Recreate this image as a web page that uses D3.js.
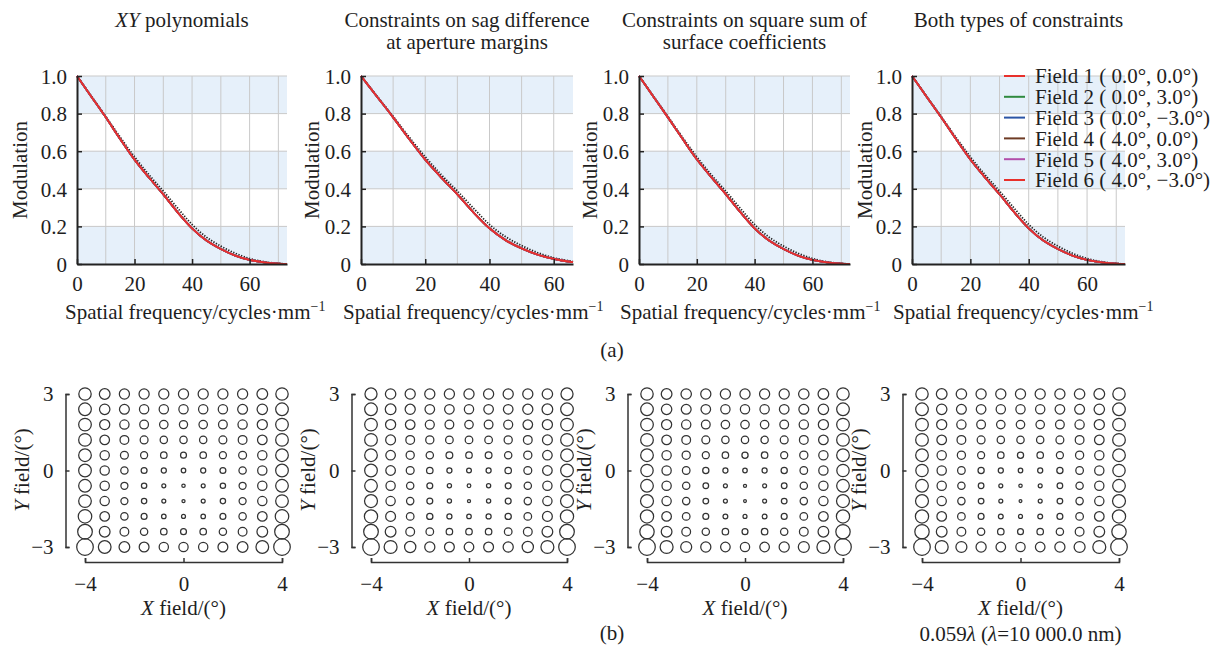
<!DOCTYPE html>
<html>
<head>
<meta charset="utf-8">
<script src="https://cdn.jsdelivr.net/npm/d3@7"></script>
<style>
  body { margin: 0; background: #fff; }
  svg { font-family: "Liberation Serif", "Times New Roman", serif; }
</style>
</head>
<body>
<div id="chart"></div>
<script>
// ---- MTF data ----
const freqLong = [0, 5, 10, 15, 20, 25, 30, 35, 40, 45, 50, 55, 60, 65, 70, 73];
const freqShort = [0, 5, 10, 15, 20, 25, 30, 35, 40, 45, 50, 55, 60, 65, 66];

const diffPoly = [1.0, 0.893, 0.785, 0.675, 0.57, 0.475, 0.388, 0.297, 0.21, 0.143, 0.095, 0.057, 0.029, 0.012, 0.003, 0];
const fieldPoly = [1.0, 0.89, 0.78, 0.665, 0.555, 0.46, 0.37, 0.275, 0.19, 0.125, 0.08, 0.045, 0.022, 0.009, 0.002, 0];

const diffSag = [1.0, 0.893, 0.785, 0.675, 0.57, 0.475, 0.388, 0.297, 0.21, 0.145, 0.098, 0.06, 0.033, 0.016, 0.013];
const fieldSag = [1.0, 0.89, 0.78, 0.665, 0.555, 0.46, 0.37, 0.275, 0.19, 0.127, 0.083, 0.05, 0.027, 0.012, 0.01];

const diffSquare = [1.0, 0.893, 0.785, 0.675, 0.57, 0.475, 0.388, 0.297, 0.21, 0.143, 0.095, 0.057, 0.029, 0.012, 0.003, 0];
const fieldSquare = [1.0, 0.89, 0.78, 0.667, 0.557, 0.462, 0.372, 0.277, 0.19, 0.125, 0.08, 0.045, 0.022, 0.009, 0.002, 0];

const diffBoth = [1.0, 0.893, 0.785, 0.675, 0.57, 0.475, 0.388, 0.297, 0.21, 0.143, 0.095, 0.057, 0.029, 0.012, 0.003, 0];
const fieldBoth = [1.0, 0.89, 0.78, 0.666, 0.556, 0.461, 0.371, 0.276, 0.19, 0.125, 0.08, 0.045, 0.022, 0.009, 0.002, 0];

const fieldNames = ["Field 1 ( 0.0°, 0.0°)", "Field 2 ( 0.0°, 3.0°)", "Field 3 ( 0.0°, \u22123.0°)",
                    "Field 4 ( 4.0°, 0.0°)", "Field 5 ( 4.0°, 3.0°)", "Field 6 ( 4.0°, \u22123.0°)"];
const fieldColors = ["#e8302b", "#2f8a3f", "#2b55a6", "#6e3b24", "#b24fab", "#e8302b"];

const yTicks = [0, 0.2, 0.4, 0.6, 0.8, 1.0];
const xTicks = [0, 20, 40, 60];

// ---- Full-field display data (RMS size in waves, rows y=3..-3, cols x=-4..4) ----
const xFields = [-4, -3.2, -2.4, -1.6, -0.8, 0, 0.8, 1.6, 2.4, 3.2, 4];
const yFields = [3, 2.4, 1.8, 1.2, 0.6, 0, -0.6, -1.2, -1.8, -2.4, -3];

const spotPoly = [
  [.044, .038, .036, .036, .036, .036, .036, .036, .036, .038, .044],
  [.045, .037, .035, .033, .033, .033, .033, .033, .035, .037, .045],
  [.045, .036, .033, .031, .030, .029, .030, .031, .033, .036, .045],
  [.045, .034, .031, .028, .026, .026, .026, .028, .031, .034, .045],
  [.045, .033, .028, .025, .023, .021, .023, .025, .028, .033, .045],
  [.045, .033, .026, .021, .018, .016, .018, .021, .026, .033, .045],
  [.045, .033, .025, .019, .014, .012, .014, .019, .025, .033, .045],
  [.045, .033, .025, .019, .014, .011, .014, .019, .025, .033, .045],
  [.048, .034, .026, .021, .016, .014, .016, .021, .026, .034, .048],
  [.052, .038, .031, .026, .023, .021, .023, .026, .031, .038, .052],
  [.059, .045, .038, .035, .033, .033, .033, .035, .038, .045, .059]
];
const spotSag = [
  [.043, .037, .036, .036, .036, .036, .036, .036, .036, .037, .043],
  [.045, .038, .036, .034, .034, .033, .034, .034, .036, .038, .045],
  [.045, .036, .034, .032, .031, .030, .031, .032, .034, .036, .045],
  [.045, .035, .031, .029, .027, .027, .027, .029, .031, .035, .045],
  [.045, .034, .029, .026, .024, .023, .024, .026, .029, .034, .045],
  [.045, .034, .028, .023, .018, .017, .018, .023, .028, .034, .045],
  [.045, .033, .026, .021, .015, .013, .015, .021, .026, .033, .045],
  [.046, .033, .026, .021, .015, .011, .015, .021, .026, .033, .046],
  [.047, .035, .027, .022, .018, .016, .018, .022, .027, .035, .047],
  [.052, .038, .031, .027, .023, .023, .023, .027, .031, .038, .052],
  [.059, .046, .040, .036, .035, .034, .035, .036, .040, .046, .059]
];
const spotSquare = [
  [.044, .038, .037, .036, .036, .036, .036, .036, .037, .038, .044],
  [.045, .037, .035, .034, .033, .033, .033, .034, .035, .037, .045],
  [.045, .036, .033, .031, .030, .030, .030, .031, .033, .036, .045],
  [.045, .034, .031, .028, .026, .026, .026, .028, .031, .034, .045],
  [.045, .033, .029, .025, .023, .022, .023, .025, .029, .033, .045],
  [.044, .033, .027, .022, .018, .016, .018, .022, .027, .033, .044],
  [.045, .033, .026, .020, .014, .011, .014, .020, .026, .033, .045],
  [.046, .033, .026, .020, .014, .010, .014, .020, .026, .033, .046],
  [.047, .034, .027, .021, .017, .014, .017, .021, .027, .034, .047],
  [.051, .038, .031, .026, .023, .021, .023, .026, .031, .038, .051],
  [.059, .046, .039, .036, .034, .033, .034, .036, .039, .046, .059]
];
const spotBoth = [
  [.044, .038, .037, .036, .036, .036, .036, .036, .037, .038, .044],
  [.045, .037, .035, .034, .033, .033, .033, .034, .035, .037, .045],
  [.045, .036, .033, .031, .030, .030, .030, .031, .033, .036, .045],
  [.045, .034, .031, .028, .026, .026, .026, .028, .031, .034, .045],
  [.045, .033, .029, .025, .023, .022, .023, .025, .029, .033, .045],
  [.044, .033, .027, .022, .018, .016, .018, .022, .027, .033, .044],
  [.045, .033, .026, .020, .014, .012, .014, .020, .026, .033, .045],
  [.046, .033, .026, .020, .014, .010, .014, .020, .026, .033, .046],
  [.047, .034, .027, .021, .017, .014, .017, .021, .027, .034, .047],
  [.051, .038, .031, .026, .023, .021, .023, .026, .031, .038, .051],
  [.059, .046, .039, .036, .034, .033, .034, .036, .039, .046, .059]
];
const spotMax = 0.059;

// ---- Layout ----
const width = 1222, height = 652;
const FS = 21;
const textColor = "#1e1e1e";
const svg = d3.select("#chart").append("svg")
    .attr("width", width)
    .attr("height", height);

const panels = [
  { title: [["XY", true], [" polynomials", false]], freq: freqLong, xMax: 73, diff: diffPoly, field: fieldPoly, spot: spotPoly,
    x0: 77, x1: 287, modX: 20, xlabX: 65, bx0: 85, bx1: 282 },
  { title: "Constraints on sag difference|at aperture margins", freq: freqShort, xMax: 66, diff: diffSag, field: fieldSag, spot: spotSag,
    x0: 361, x1: 573, modX: 312, xlabX: 343, bx0: 371, bx1: 567 },
  { title: "Constraints on square sum of|surface coefficients", freq: freqLong, xMax: 73, diff: diffSquare, field: fieldSquare, spot: spotSquare,
    x0: 639, x1: 850, modX: 590, xlabX: 620, bx0: 647, bx1: 843 },
  { title: "Both types of constraints", freq: freqLong, xMax: 73, diff: diffBoth, field: fieldBoth, spot: spotBoth,
    x0: 912, x1: 1125, modX: 865, xlabX: 893, bx0: 922, bx1: 1119 }
];

const yTop = 76, yBot = 264;

panels.forEach((p, i) => {
  const x = d3.scaleLinear().domain([0, p.xMax]).range([p.x0, p.x1]);
  const y = d3.scaleLinear().domain([0, 1]).range([yBot, yTop]);
  const g = svg.append("g");

  // Light blue bands
  [[0, 0.2], [0.4, 0.6], [0.8, 1.0]].forEach(b => {
    g.append("rect")
      .attr("x", p.x0).attr("y", y(b[1]))
      .attr("width", p.x1 - p.x0).attr("height", y(b[0]) - y(b[1]))
      .attr("fill", "#e6f0fa");
  });

  // Grid
  g.selectAll(".vgrid").data(d3.range(10, p.xMax, 10)).join("line")
    .attr("x1", d => x(d)).attr("x2", d => x(d))
    .attr("y1", yTop).attr("y2", yBot)
    .attr("stroke", "#c9c9c9").attr("stroke-width", 1);
  g.selectAll(".hgrid").data(yTicks.slice(1)).join("line")
    .attr("x1", p.x0).attr("x2", p.x1)
    .attr("y1", d => y(d)).attr("y2", d => y(d))
    .attr("stroke", "#c9c9c9").attr("stroke-width", 1);

  // Curves
  const pts = arr => p.freq.map((f, k) => [f, arr[k]]);
  const line = d3.line().x(d => x(d[0])).y(d => y(d[1])).curve(d3.curveMonotoneX);
  g.append("path").datum(pts(p.diff))
    .attr("d", line).attr("fill", "none")
    .attr("stroke", "#222").attr("stroke-width", 1.8)
    .attr("stroke-dasharray", "1.3,1.5");
  fieldColors.forEach(c => {
    g.append("path").datum(pts(p.field))
      .attr("d", line).attr("fill", "none")
      .attr("stroke", c).attr("stroke-width", 1.8);
  });

  // Axes
  const xAxis = g.append("g").attr("transform", `translate(0,${yBot})`)
    .call(d3.axisBottom(x).tickValues(xTicks).tickSizeInner(-5).tickSizeOuter(0).tickPadding(12).tickFormat(d3.format("d")));
  const yAxis = g.append("g").attr("transform", `translate(${p.x0},0)`)
    .call(d3.axisLeft(y).tickValues(yTicks).tickSizeInner(-5).tickSizeOuter(0).tickPadding(10)
      .tickFormat(d => d === 0 ? "0" : d3.format(".1f")(d)));
  [xAxis, yAxis].forEach(a => {
    a.select(".domain").attr("stroke", "#222").attr("stroke-width", 2);
    a.selectAll(".tick line").attr("stroke", "#222").attr("stroke-width", 1.5);
    a.selectAll(".tick text").attr("font-size", FS).attr("font-family", "Liberation Serif").attr("fill", textColor);
  });
  yAxis.selectAll(".tick text").attr("dy", "0.35em");

  // Title
  const cx = (p.x0 + p.x1) / 2;
  if (Array.isArray(p.title)) {
    const t = g.append("text").attr("x", cx).attr("y", 27).attr("text-anchor", "middle")
      .attr("font-size", FS).attr("fill", textColor);
    p.title.forEach(s => t.append("tspan").text(s[0]).attr("font-style", s[1] ? "italic" : "normal"));
  } else {
    p.title.split("|").forEach((s, k) => {
      g.append("text").attr("x", cx).attr("y", 27 + k * 22).attr("text-anchor", "middle")
        .attr("font-size", FS).attr("fill", textColor).text(s);
    });
  }

  // Axis labels
  g.append("text").attr("transform", `translate(${p.modX + 7},${(yTop + yBot) / 2}) rotate(-90)`)
    .attr("text-anchor", "middle").attr("font-size", FS).attr("fill", textColor).text("Modulation");
  const xl = g.append("text").attr("x", p.xlabX).attr("y", 319)
    .attr("font-size", FS).attr("fill", textColor).text("Spatial frequency/cycles\u00b7mm");
  xl.append("tspan").attr("dy", -8).attr("font-size", 14).text("\u22121");

  // ---- Full-field circle plots ----
  const bx = d3.scaleLinear().domain([-4, 4]).range([p.bx0, p.bx1]);
  const by = d3.scaleLinear().domain([-3, 3]).range([547, 394]);
  const r = d3.scaleLinear().domain([0, spotMax]).range([0, 8.3]);
  const cells = [];
  yFields.forEach((fy, ri) => xFields.forEach((fx, ci) => cells.push({ fx, fy, v: p.spot[ri][ci] })));
  const gb = svg.append("g");
  gb.selectAll("circle").data(cells).join("circle")
    .attr("cx", d => bx(d.fx)).attr("cy", d => by(d.fy))
    .attr("r", d => r(d.v))
    .attr("fill", "none").attr("stroke", "#333").attr("stroke-width", 1.25);

  const bxAxis = gb.append("g").attr("transform", "translate(0,562)")
    .call(d3.axisBottom(bx).tickValues([-4, 0, 4]).tickSize(-4).tickSizeOuter(-4).tickPadding(14)
      .tickFormat(d => d < 0 ? "\u2212" + Math.abs(d) : d));
  const byAxis = gb.append("g").attr("transform", `translate(${p.bx0 - 19.5},0)`)
    .call(d3.axisLeft(by).tickValues([-3, 0, 3]).tickSize(-4).tickSizeOuter(-4).tickPadding(12)
      .tickFormat(d => d < 0 ? "\u2212" + Math.abs(d) : d));
  [bxAxis, byAxis].forEach(a => {
    a.select(".domain").attr("stroke", "#333").attr("stroke-width", 1.5);
    a.selectAll(".tick line").attr("stroke", "#333").attr("stroke-width", 1.5);
    a.selectAll(".tick text").attr("font-size", FS).attr("font-family", "Liberation Serif").attr("fill", textColor);
  });

  const bcx = (p.bx0 + p.bx1) / 2;
  const xf = gb.append("text").attr("x", bcx).attr("y", 615).attr("text-anchor", "middle")
    .attr("font-size", FS).attr("fill", textColor);
  xf.append("tspan").attr("font-style", "italic").text("X");
  xf.append("tspan").text(" field/(°)");
  const yf = gb.append("text").attr("transform", `translate(${p.bx0 - 19.5 - 37},470) rotate(-90)`)
    .attr("text-anchor", "middle").attr("font-size", FS).attr("fill", textColor);
  yf.append("tspan").attr("font-style", "italic").text("Y");
  yf.append("tspan").text(" field/(°)");

  if (i === 3) {
    const s = gb.append("text").attr("x", bcx).attr("y", 641).attr("text-anchor", "middle")
      .attr("font-size", FS).attr("fill", textColor);
    s.append("tspan").text("0.059");
    s.append("tspan").attr("font-style", "italic").text("\u03bb");
    s.append("tspan").text(" (");
    s.append("tspan").attr("font-style", "italic").text("\u03bb");
    s.append("tspan").text("=10 000.0 nm)");
  }
});

// Legend (on the last MTF panel)
const leg = svg.append("g").attr("transform", "translate(1004,76)");
fieldNames.forEach((n, k) => {
  const row = leg.append("g").attr("transform", `translate(0,${k * 20.8})`);
  row.append("line").attr("x1", 0).attr("x2", 21).attr("y1", 0).attr("y2", 0)
    .attr("stroke", fieldColors[k]).attr("stroke-width", 2);
  row.append("text").attr("x", 31).attr("y", 0).attr("dy", "0.35em")
    .attr("font-size", FS).attr("fill", textColor).text(n);
});

// Sub-figure labels
svg.append("text").attr("x", 612).attr("y", 357).attr("text-anchor", "middle")
  .attr("font-size", FS).attr("fill", textColor).text("(a)");
svg.append("text").attr("x", 612).attr("y", 640).attr("text-anchor", "middle")
  .attr("font-size", FS).attr("fill", textColor).text("(b)");
</script>
</body>
</html>
